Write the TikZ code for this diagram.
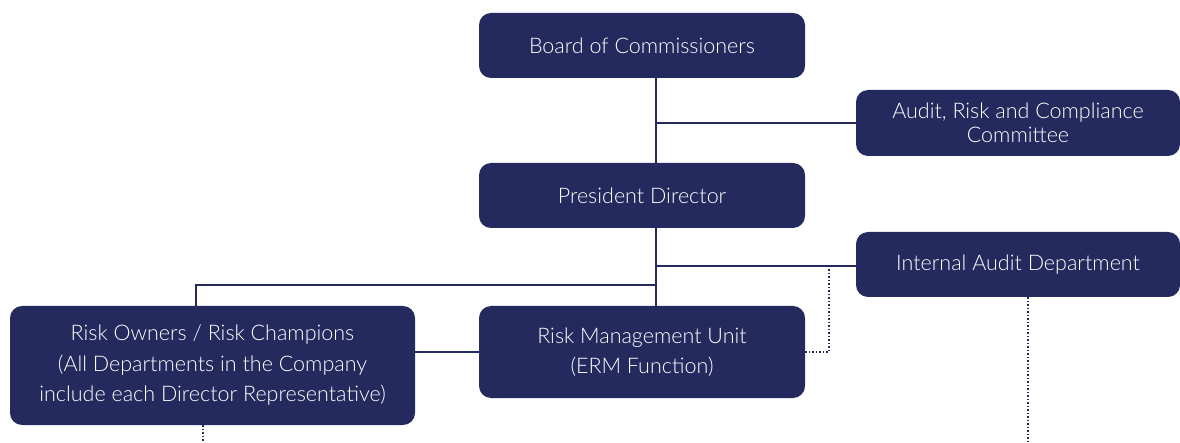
\documentclass[tikz,border=0pt]{standalone}
\usepackage{fontspec}
\setmainfont{Lato}[UprightFont=* Light]
\usetikzlibrary{positioning}
\definecolor{navy}{HTML}{252A5E}

\begin{document}
\begin{tikzpicture}[x=1pt, y=-1pt, font=\fontsize{21.5}{30.5}\selectfont,
    unit/.style={draw=none, fill=navy, text=white, rounded corners=12pt, align=center, inner sep=0pt},
    link/.style={draw=navy, line width=1.5pt},
    dotlink/.style={draw=navy, line width=1.5pt, dotted}]
  \useasboundingbox (0,0) rectangle (1180,443);
  \node[unit, minimum width=326pt, minimum height=65pt] (board) at (642,45.5) {Board of Commissioners};
  \node[unit, minimum width=324pt, minimum height=66pt, font=\fontsize{21.5}{24}\selectfont] (arc) at (1018,123) {Audit, Risk and Compliance\\Committee};
  \node[unit, minimum width=326pt, minimum height=65pt] (pres) at (642,195.5) {President Director};
  \node[unit, minimum width=324pt, minimum height=65pt] (iad) at (1018,264.5) {Internal Audit Department};
  \node[unit, minimum width=405pt, minimum height=119pt] (owners) at (212.5,365.5) {Risk Owners / Risk Champions\\(All Departments in the Company\\include each Director Representative)};
  \node[unit, minimum width=326pt, minimum height=92pt] (rmu) at (642,352) {Risk Management Unit\\(ERM Function)};

  % junctions
  \coordinate (j1) at (656,123);
  \coordinate (j2) at (656,266);
  \coordinate (j3) at (656,285);
  \coordinate (j4) at (196,285);
  \coordinate (d1) at (829,266);
  \coordinate (e1) at (203,443);
  \coordinate (e2) at (1028,443);

  \draw[link] (board.south -| j1) -- (pres.north -| j1);
  \draw[link] (j1) -- (arc.west |- j1);
  \draw[link] (pres.south -| j2) -- (rmu.north -| j2);
  \draw[link] (j2) -- (iad.west |- j2);
  \draw[link] (j3) -- (j4) -- (owners.north -| j4);
  \draw[link] (owners.east |- rmu) -- (rmu.west);
  \draw[dotlink] (d1) -- (d1 |- rmu) -- (rmu.east);
  \draw[dotlink] (owners.south -| e1) -- (e1);
  \draw[dotlink] (iad.south -| e2) -- (e2);
\end{tikzpicture}
\end{document}
